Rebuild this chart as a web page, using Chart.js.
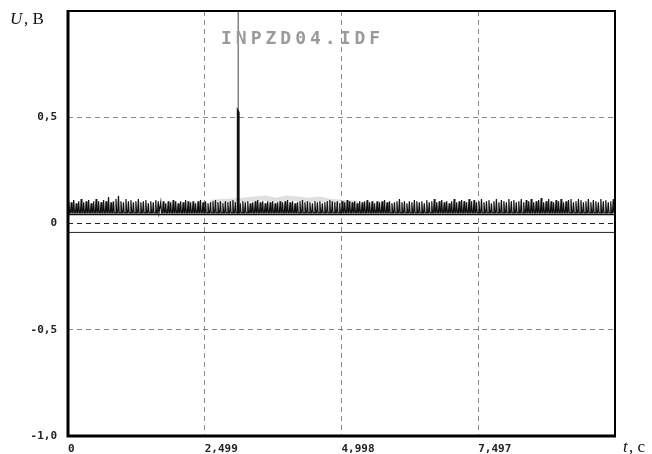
<!DOCTYPE html>
<html>
<head>
<meta charset="utf-8">
<script src="https://cdn.jsdelivr.net/npm/chart.js@4.4.0/dist/chart.umd.min.js"></script>
<style>
  body { margin: 0; background: #fff; }
  #wrap { width: 652px; height: 454px; }
</style>
</head>
<body>
<div id="wrap"><canvas id="chart" width="652" height="454"></canvas></div>
<script>
// Tín hiệu U(t) - các giá trị
const fileName = "INPZD04.IDF";
const tMax = 9.996;
const xTicks = [0, 2.499, 4.998, 7.497, 9.996];
const xLabels = ["0", "2,499", "4,998", "7,497", ""];
const yTicks = [-1, -0.5, 0, 0.5, 1];
const yLabels = ["-1,0", "-0,5", "0", "0,5", ""];

// đỉnh nhiễu (mỗi xung một giá trị), nền xung và các mức ngang
const noiseBase = 0.05;
const noisePeaks = [
  .105,.1,.11,.095,.105,.115,.1,.105,.11,.095,.105,.115,.105,.1,.11,.105,.125,.1,.105,.115,
  .13,.105,.1,.115,.105,.11,.1,.105,.115,.1,.105,.11,.095,.105,.1,.11,.105,.1,.105,.095,
  .105,.1,.11,.105,.095,.105,.1,.11,.105,.1,.105,.095,.105,.11,.1,.105,.095,.1,.105,.11,
  .1,.105,.095,.105,.1,.105,.11,.1,.105,.095,.105,.1,.105,.095,.1,.105,.11,.1,.105,.095,
  .105,.1,.105,.095,.1,.105,.1,.105,.11,.1,.105,.095,.1,.105,.11,.1,.105,.1,.095,.105,
  .1,.105,.095,.1,.105,.11,.105,.1,.105,.095,.105,.1,.11,.105,.1,.105,.095,.105,.1,.105,
  .11,.1,.105,.095,.105,.1,.105,.11,.1,.105,.095,.1,.105,.115,.1,.105,.095,.105,.1,.11,
  .105,.1,.105,.095,.11,.1,.105,.115,.1,.105,.11,.1,.105,.095,.105,.115,.1,.105,.11,.105,
  .1,.115,.105,.11,.1,.105,.115,.1,.105,.11,.095,.105,.115,.1,.11,.105,.1,.115,.105,.11,
  .1,.105,.115,.1,.11,.105,.115,.1,.105,.11,.12,.1,.105,.115,.105,.1,.11,.105,.115,.1,
  .105,.11,.115,.1,.105,.115,.11,.1,.105,.115,.1,.11,.105,.1,.115,.105,.11,.1,.105,.115
];
// vùng xám (vết mờ) khoảng 2,6 .. 5,3 s
const grayT = [2.6, 2.9, 3.2, 3.4, 3.6, 3.8, 4.0, 4.2, 4.4, 4.6, 4.8, 5.0, 5.3];
const grayU = [0.1, 0.105, 0.11, 0.115, 0.12, 0.11, 0.12, 0.115, 0.11, 0.115, 0.105, 0.1, 0.095];
// xung lớn
const pulseT = [3.095, 3.098, 3.12, 3.123];
const pulseU = [0.05, 0.535, 0.525, 0.05];
// con trỏ
const cursorT = [3.11, 3.11];
const cursorU = [0.53, 1];
// mức ngang
const upperLevel = 0.042;
const lowerLevel = -0.042;

// dựng điểm cho nhiễu: nền -> đỉnh -> nền
const step = tMax / noisePeaks.length;
const noisePts = [];
noisePeaks.forEach((p, i) => {
  const t = i * step;
  noisePts.push({ x: t, y: noiseBase });
  noisePts.push({ x: t + step * 0.3, y: p });
  noisePts.push({ x: t + step * 0.6, y: noiseBase });
});
const zip = (xs, ys) => xs.map((x, i) => ({ x: x, y: ys[i] }));

const framePlugin = {
  id: 'frame',
  afterDatasetsDraw(chart) {
    const { ctx, chartArea: a } = chart;
    ctx.save();
    ctx.strokeStyle = '#000';
    ctx.lineWidth = 2;
    ctx.strokeRect(a.left, a.top, a.right - a.left, a.bottom - a.top);
    ctx.lineWidth = 3;
    ctx.beginPath();
    ctx.moveTo(a.left, a.top - 1);
    ctx.lineTo(a.left, a.bottom);
    ctx.lineTo(a.right + 1, a.bottom);
    ctx.stroke();
    // tên file
    ctx.fillStyle = '#9a9a9a';
    ctx.font = 'bold 18px "DejaVu Sans Mono"';
    ctx.letterSpacing = '4px';
    ctx.textBaseline = 'alphabetic';
    ctx.textAlign = 'left';
    ctx.fillText(fileName, 221, 44);
    ctx.letterSpacing = '0px';
    // nhãn trục
    ctx.fillStyle = '#111';
    ctx.font = 'italic 17px "Liberation Serif"';
    ctx.fillText('U', 10, 24);
    ctx.font = '17px "Liberation Serif"';
    ctx.fillText(', B', 24, 24);
    ctx.font = 'italic 17px "Liberation Serif"';
    ctx.fillText('t', 623, 452);
    ctx.font = '17px "Liberation Serif"';
    ctx.fillText(', c', 629, 452);
    ctx.restore();
  }
};

const tickFont = { family: '"DejaVu Sans Mono"', size: 11, weight: 'bold' };
const noEdgePad = s => { s.paddingTop = 0; s.paddingBottom = 0; s.paddingLeft = 0; s.paddingRight = 0; };

new Chart(document.getElementById('chart'), {
  type: 'line',
  data: {
    datasets: [
      { data: zip(grayT, grayU), borderColor: 'rgba(150,150,150,0.3)', borderWidth: 5, order: 5 },
      { data: noisePts, borderColor: '#111', borderWidth: 1.2, order: 3 },
      { data: zip([0, tMax], [upperLevel, upperLevel]), borderColor: '#111', borderWidth: 1.5, order: 2 },
      { data: zip([0, tMax], [lowerLevel, lowerLevel]), borderColor: '#222', borderWidth: 1, order: 2 },
      { data: zip(pulseT, pulseU), borderColor: '#111', borderWidth: 1.5, order: 1 },
      { data: zip(cursorT, cursorU), borderColor: '#444', borderWidth: 1, order: 1 }
    ]
  },
  options: {
    responsive: false,
    animation: false,
    events: [],
    layout: { padding: { top: 11, right: 37, left: 0, bottom: 0 } },
    elements: { point: { radius: 0 }, line: { tension: 0 } },
    plugins: { legend: { display: false }, tooltip: { enabled: false } },
    scales: {
      x: {
        type: 'linear',
        min: 0,
        max: tMax,
        afterBuildTicks: s => { s.ticks = xTicks.map(v => ({ value: v })); },
        afterFit: s => { s.height = 18; noEdgePad(s); },
        ticks: {
          autoSkip: false,
          maxRotation: 0,
          align: 'start',
          padding: 7,
          color: '#222',
          font: tickFont,
          callback: (v, i) => xLabels[i]
        },
        grid: {
          drawTicks: false,
          color: ctx => (ctx.tick && (ctx.tick.value === 0 || ctx.tick.value === tMax)) ? 'rgba(0,0,0,0)' : '#8a8a8a',
          lineWidth: 1
        },
        border: { display: false, dash: [5, 4] }
      },
      y: {
        type: 'linear',
        min: -1,
        max: 1,
        afterBuildTicks: s => { s.ticks = yTicks.map(v => ({ value: v })); },
        afterFit: s => { s.width = 68; noEdgePad(s); },
        ticks: {
          autoSkip: false,
          padding: 11,
          color: '#222',
          font: tickFont,
          callback: (v, i) => yLabels[i]
        },
        grid: {
          drawTicks: false,
          color: ctx => {
            const v = ctx.tick ? ctx.tick.value : null;
            if (v === 0) return '#222';
            if (v === -1 || v === 1) return 'rgba(0,0,0,0)';
            return '#8a8a8a';
          },
          lineWidth: 1
        },
        border: { display: false, dash: [5, 4] }
      }
    }
  },
  plugins: [framePlugin]
});
</script>
</body>
</html>
